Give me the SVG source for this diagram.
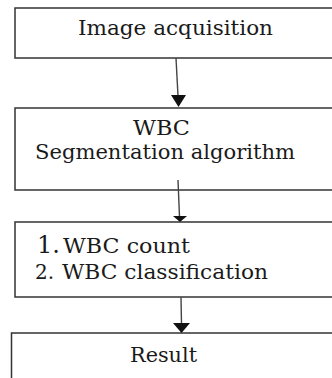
<svg xmlns="http://www.w3.org/2000/svg" width="332" height="378" viewBox="0 0 332 378">
<style>
.box{fill:#fff;stroke:#333;stroke-width:1.5}
.t{font-family:'DejaVu Serif','Liberation Serif',serif;font-size:20px;fill:#1a1a1a}
.ln{stroke:#444;stroke-width:1.4;fill:none}
.hd{fill:#111}
</style>
<rect width="332" height="378" fill="#fff"/>
<g id="n1"><rect class="box" x="15" y="8" width="330" height="50"/>
<text class="t" x="78" y="35" textLength="195" lengthAdjust="spacingAndGlyphs">Image acquisition</text></g>
<g id="n2"><rect class="box" x="15" y="108" width="330" height="82"/>
<text class="t" x="133" y="135" textLength="57" lengthAdjust="spacingAndGlyphs">WBC</text>
<text class="t" x="35" y="159" textLength="260" lengthAdjust="spacingAndGlyphs">Segmentation algorithm</text></g>
<g id="n3"><rect class="box" x="15" y="222" width="330" height="75"/>
<text class="t" x="37" y="253" style="font-size:24px">1.</text>
<text class="t" x="63" y="253" textLength="127" lengthAdjust="spacingAndGlyphs">WBC count</text>
<text class="t" x="35" y="279">2.</text>
<text class="t" x="62" y="279" textLength="206" lengthAdjust="spacingAndGlyphs">WBC classification</text></g>
<g id="n4"><rect class="box" x="11.5" y="333" width="340" height="60"/>
<text class="t" x="130" y="362" textLength="67" lengthAdjust="spacingAndGlyphs">Result</text></g>
<g id="connectors">
<line class="ln" x1="176" y1="58" x2="178" y2="96"/>
<polygon class="hd" points="171,95 186,95 178.5,107"/>
<line class="ln" x1="178" y1="180" x2="179.5" y2="217"/>
<polygon class="hd" points="173,216 187,216 180,222"/>
<line class="ln" x1="181" y1="297" x2="181.5" y2="324"/>
<polygon class="hd" points="173,323 190,323 181.5,333"/>
</g>
</svg>
